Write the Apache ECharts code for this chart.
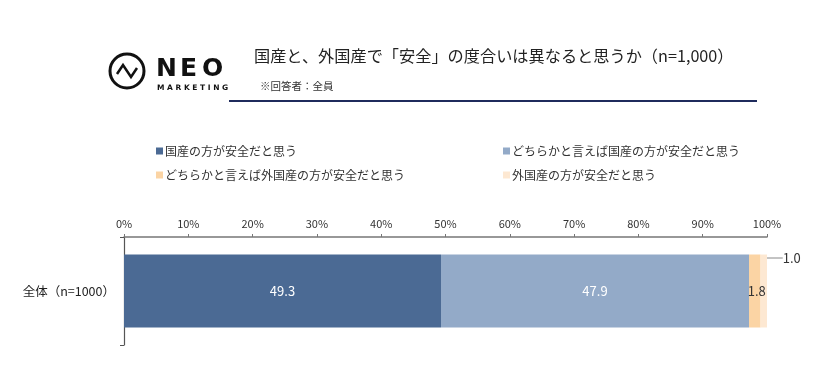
<!DOCTYPE html>
<html><head><meta charset="utf-8">
<script src="https://cdn.jsdelivr.net/npm/echarts@6/dist/echarts.min.js"></script>
<style>html,body{margin:0;padding:0;background:#fff}#c{width:818px;height:370px}</style>
</head><body><div id="c"></div>
<script>
const categories = ['全体（n=1000）'];
const seriesNames = ['国産の方が安全だと思う','どちらかと言えば国産の方が安全だと思う','どちらかと言えば外国産の方が安全だと思う','外国産の方が安全だと思う'];
const s1 = [49.3];
const s2 = [47.9];
const s3 = [1.8];
const s4 = [1.0];
const xTicks = ['0%','10%','20%','30%','40%','50%','60%','70%','80%','90%','100%'];
const colors = ['#4b6a94','#93aac8','#fbd4a4','#fde8d2'];
const FONT = '"Noto Sans CJK JP", sans-serif';

const chart = echarts.init(document.getElementById('c'));
const legPos = [[151,140],[498,140],[151,164],[498,164]];
const legends = seriesNames.map((n,i)=>({
  data:[n], left:legPos[i][0], top:legPos[i][1], itemWidth:7, itemHeight:7, itemGap:0,
  icon:'rect', textStyle:{fontFamily:FONT,fontSize:12,color:'#333',padding:[0,0,0,-3]}
}));
const vals=[s1,s2,s3,s4];
chart.setOption({
  animation:false,
  color:colors,
  legend:legends,
  grid:{left:124,right:51,top:237,bottom:25},
  xAxis:{type:'value',position:'top',min:0,max:100,interval:10,
    axisLine:{show:true,lineStyle:{color:'#777',width:1.5}},
    axisTick:{show:true,length:3,lineStyle:{color:'#777'}},
    splitLine:{show:false},
    axisLabel:{formatter:(v)=>xTicks[Math.round(v/10)],fontFamily:FONT,fontSize:11,color:'#333',margin:8}},
  yAxis:{type:'category',data:categories,
    axisLine:{show:true,lineStyle:{color:'#555',width:1.2}},
    axisTick:{show:true,length:4,lineStyle:{color:'#555'}},
    axisLabel:{fontFamily:FONT,fontSize:12.5,color:'#222',margin:9}},
  series:vals.map((v,i)=>({
    name:seriesNames[i],type:'bar',stack:'a',data:v,barWidth:73,
    itemStyle:{color:colors[i]},
    label:{show:true,position:'inside',
      formatter:(p)=>p.value.toFixed(1),fontFamily:FONT,fontSize:13,
      color:i<2?'#fff':'#333'},
    labelLayout:i===2?{dx:2}:(i===3?{dx:28,dy:-33}:undefined),
    labelLine:i===3?{show:true,lineStyle:{color:'#888',width:1}}:undefined
  })),
  graphic:[
    {type:'circle',shape:{cx:127,cy:71,r:17},style:{fill:'none',stroke:'#111',lineWidth:3}},
    {type:'polyline',shape:{points:[[117,74],[123,65],[131,77],[137,68]]},style:{fill:'none',stroke:'#111',lineWidth:2.5,lineJoin:'miter'}},
    {type:'text',left:156,top:57,style:{text:'N',font:'bold 25px "DejaVu Sans", sans-serif',fill:'#111'}},
    {type:'text',left:180,top:57,style:{text:'E',font:'bold 25px "DejaVu Sans", sans-serif',fill:'#111'}},
    {type:'text',left:202,top:57,style:{text:'O',font:'bold 25px "DejaVu Sans", sans-serif',fill:'#111'}},
    {type:'text',left:157,top:84,style:{text:'M A R K E T I N G',font:'bold 7.5px "DejaVu Sans", sans-serif',fill:'#111'}},
    {type:'text',left:254,top:48,style:{text:'国産と、外国産で「安全」の度合いは異なると思うか（n=1,000）',font:'16.2px '+FONT,fill:'#222'}},
    {type:'text',left:260,top:81,style:{text:'※回答者：全員',font:'10.5px '+FONT,fill:'#333'}},
    {type:'rect',shape:{x:229,y:100,width:528,height:2},style:{fill:'#1f2b5c'}}
  ]
});
</script></body></html>
